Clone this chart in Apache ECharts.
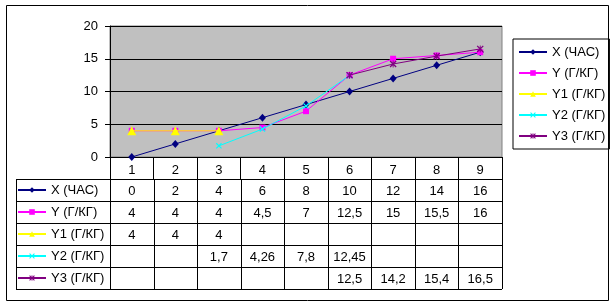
<!DOCTYPE html>
<html><head><meta charset="utf-8">
<script src="https://cdn.jsdelivr.net/npm/echarts@6/dist/echarts.min.js"></script>
<style>html,body{margin:0;padding:0;background:#fff}#c{width:616px;height:306px}</style>
</head><body><div id="c"></div>
<script>
const categories = ['1','2','3','4','5','6','7','8','9'];
const seriesNames = ['X (ЧАС)','Y (Г/КГ)','Y1 (Г/КГ)','Y2 (Г/КГ)','Y3 (Г/КГ)'];
const xHour = [0,2,4,6,8,10,12,14,16];
const yGkg = [4,4,4,4.5,7,12.5,15,15.5,16];
const y1Gkg = [4,4,4,null,null,null,null,null,null];
const y2Gkg = [null,null,1.7,4.26,7.8,12.45,null,null,null];
const y3Gkg = [null,null,null,null,null,12.5,14.2,15.4,16.5];
const yMin = 0, yMax = 20, yStep = 5;

const allData = [xHour, yGkg, y1Gkg, y2Gkg, y3Gkg];
const colors = ['#000080','#FF00FF','#FFFF00','#00FFFF','#800080'];
const CROSS = 'M0,1.3L1.3,0L10,8.7L8.7,10ZM8.7,0L10,1.3L1.3,10L0,8.7Z';
const STAR = CROSS + 'M4.35,0L5.65,0L5.65,10L4.35,10Z';
const symbols = ['diamond','rect','triangle','path://' + CROSS,'path://' + STAR];
const symSizes = [[7,8],6,9,6,7];

const FONT = '"Liberation Sans", Arial, sans-serif';
const chart = echarts.init(document.getElementById('c'), null, {renderer:'canvas'});

const series = allData.map((d,i)=>({
  name: seriesNames[i], type:'line', data:d, symbol:symbols[i], symbolSize:symSizes[i],
  showSymbol:true, connectNulls:false, animation:false,
  lineStyle:{color:colors[i], width:1},
  itemStyle:{color:colors[i], borderWidth:0},
  emphasis:{disabled:true}, z: 2+i
}));

const legendText = {fontFamily:FONT, fontSize:13, color:'#000', lineHeight:14};

chart.setOption({
  animation:false,
  textStyle:{fontFamily:FONT},
  grid:{left:110, top:26, right:114, bottom:149, show:true, backgroundColor:'#C0C0C0', borderColor:'#808080', borderWidth:1},
  xAxis:{type:'category', data:categories, boundaryGap:true,
    axisLine:{lineStyle:{color:'#000', width:1}},
    axisTick:{show:true, length:22, lineStyle:{color:'#000'}},
    axisLabel:{fontFamily:FONT, fontSize:13, color:'#000', margin:7}
  },
  yAxis:{type:'value', min:yMin, max:yMax, interval:yStep,
    axisLine:{show:true, lineStyle:{color:'#000'}},
    axisTick:{show:true, length:5, lineStyle:{color:'#000'}},
    splitLine:{show:true, lineStyle:{color:'#000', width:1}},
    axisLabel:{fontFamily:FONT, fontSize:13, color:'#000', margin:12}
  },
  legend:[
    {orient:'vertical', left:513, top:39, padding:[6,4,6,5], borderColor:'#000', borderWidth:1,
     itemWidth:28, itemHeight:7, itemGap:7, textStyle:legendText, selectedMode:false, data:seriesNames},
    {orient:'vertical', left:17, top:183, padding:0,
     itemWidth:28, itemHeight:7, itemGap:8, textStyle:legendText, selectedMode:false, data:seriesNames}
  ],
  series: series
});

// data table below the axis
const x0 = chart.convertToPixel({xAxisIndex:0}, 0);
const x1 = chart.convertToPixel({xAxisIndex:0}, 1);
const colW = x1 - x0;
const tableLeft = 16, axisLeft = x0 - colW/2, axisRight = axisLeft + colW*categories.length;
const rowTop = 179, rowH = 22;
const fmt = v => String(v).replace('.', ',');
const g = [];
g.push({type:'rect', shape:{x:6.5,y:5.5,width:602,height:295}, style:{fill:'none', stroke:'#000', lineWidth:1}, silent:true, z:0});
for (let r=0; r<=allData.length; r++) {
  const y = Math.round(rowTop + r*rowH) + 0.5;
  g.push({type:'line', shape:{x1:tableLeft, y1:y, x2:axisRight, y2:y}, style:{stroke:'#000', lineWidth:1}, silent:true});
}
const vlines = [tableLeft];
for (let c=0; c<=categories.length; c++) vlines.push(axisLeft + c*colW);
vlines.forEach(xv=>{
  const xx = Math.round(xv) + 0.5;
  g.push({type:'line', shape:{x1:xx, y1:rowTop, x2:xx, y2:rowTop + rowH*allData.length}, style:{stroke:'#000', lineWidth:1}, silent:true});
});
allData.forEach((d,r)=>{
  d.forEach((v,c)=>{
    if (v === null) return;
    g.push({type:'text', x: axisLeft + (c+0.5)*colW, y: rowTop + (r+0.5)*rowH + 1,
      style:{text:fmt(v), font:'13px "Liberation Sans", Arial, sans-serif', fill:'#000', align:'center', verticalAlign:'middle'}, silent:true});
  });
});
chart.setOption({graphic:{elements:g}});
</script>
</body></html>
